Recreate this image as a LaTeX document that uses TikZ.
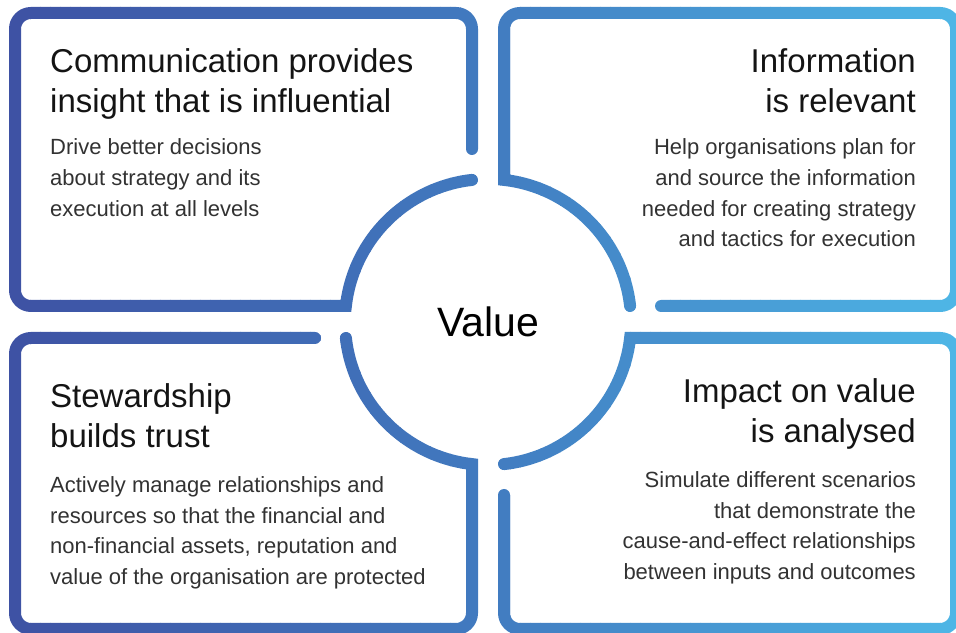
\documentclass[tikz,border=0pt]{standalone}
\usepackage{fontspec}
\setmainfont{Liberation Sans}

\definecolor{frameleft}{RGB}{62,81,163}
\definecolor{framemid}{RGB}{65,123,192}
\definecolor{frameright}{RGB}{78,182,230}
\definecolor{headtext}{RGB}{20,20,20}
\definecolor{bodytext}{RGB}{50,50,50}

% four open frames round the circle (centre (488,310), radius 143);
% a corner takes the rounding of the segment that runs into it,
% so the segment that meets an arc is kept sharp
\newcommand{\framepath}{
  (472,483) [rounded corners=16pt] -- (472,619) -- (15,619) -- (15,326)
    [sharp corners] -- (345.9,326) arc[start angle=173.576, end angle=96.424, radius=143]
  (630.1,326) [sharp corners] arc[start angle=6.424, end angle=83.576, radius=143]
    [rounded corners=16pt] -- (504,619) -- (956,619) -- (956,326) -- (661,326)
  (504,137) [rounded corners=16pt] -- (504,3) -- (956,3) -- (956,294)
    [sharp corners] -- (630.1,294) arc[start angle=-6.424, end angle=-83.576, radius=143]
  (315,294) [rounded corners=16pt] -- (15,294) -- (15,3) -- (472,3)
    [sharp corners] -- (472,167.9) arc[start angle=-96.424, end angle=-173.576, radius=143]
}

\begin{document}
\begin{tikzpicture}[x=1pt, y=1pt,
  frame/.style={line width=12pt, line cap=round},
  head/.style={font=\fontsize{33}{39.5}\selectfont, text=headtext, inner sep=0pt},
  body/.style={font=\fontsize{22}{30.6}\selectfont, text=bodytext, inner sep=0pt}
]
  \useasboundingbox (0,0) rectangle (956,632);
  \clip (0,0) rectangle (956,632);

  % stroke colour runs from dark to light blue, strip by strip
  \foreach \i in {0,...,95} {
    \pgfmathsetmacro{\xm}{10*\i+5}
    \ifdim\xm pt<488pt
      \pgfmathsetmacro{\pct}{\xm/4.88}
      \colorlet{stripcol}{framemid!\pct!frameleft}
    \else
      \pgfmathsetmacro{\pct}{(\xm-488)/4.68}
      \colorlet{stripcol}{frameright!\pct!framemid}
    \fi
    \begin{scope}
      \clip (10*\i,0) rectangle ++(10.5,632);
      \draw[frame, stripcol] \framepath;
    \end{scope}
  }

  \node[font=\fontsize{41}{41}\selectfont, anchor=base] (value) at (488,295) {Value};

  % text blocks are placed by the baseline of their last line
  % top left
  \node[head, align=left, anchor=base west] (comm) at (50,519.5)
    {Communication provides\\insight that is influential};
  \node[body, align=left, anchor=base west] (commtext) at (50,415.8)
    {Drive better decisions\\about strategy and its\\execution at all levels};

  % top right
  \node[head, align=right, anchor=base east] (info) at (916,519.5)
    {Information\\is relevant};
  \node[body, align=right, anchor=base east] (infotext) at (916,385.2)
    {Help organisations plan for\\and source the information\\needed for creating strategy\\and tactics for execution};

  % bottom left
  \node[head, align=left, anchor=base west] (steward) at (50,184.5)
    {Stewardship\\builds trust};
  \node[body, align=left, anchor=base west] (stewardtext) at (50,47.5)
    {Actively manage relationships and\\resources so that the financial and\\non-financial assets, reputation and\\value of the organisation are protected};

  % bottom right
  \node[head, align=right, anchor=base east] (impact) at (916,189.5)
    {Impact on value\\is analysed};
  \node[body, align=right, anchor=base east] (impacttext) at (916,52.5)
    {Simulate different scenarios\\that demonstrate the\\cause-and-effect relationships\\between inputs and outcomes};
\end{tikzpicture}
\end{document}
